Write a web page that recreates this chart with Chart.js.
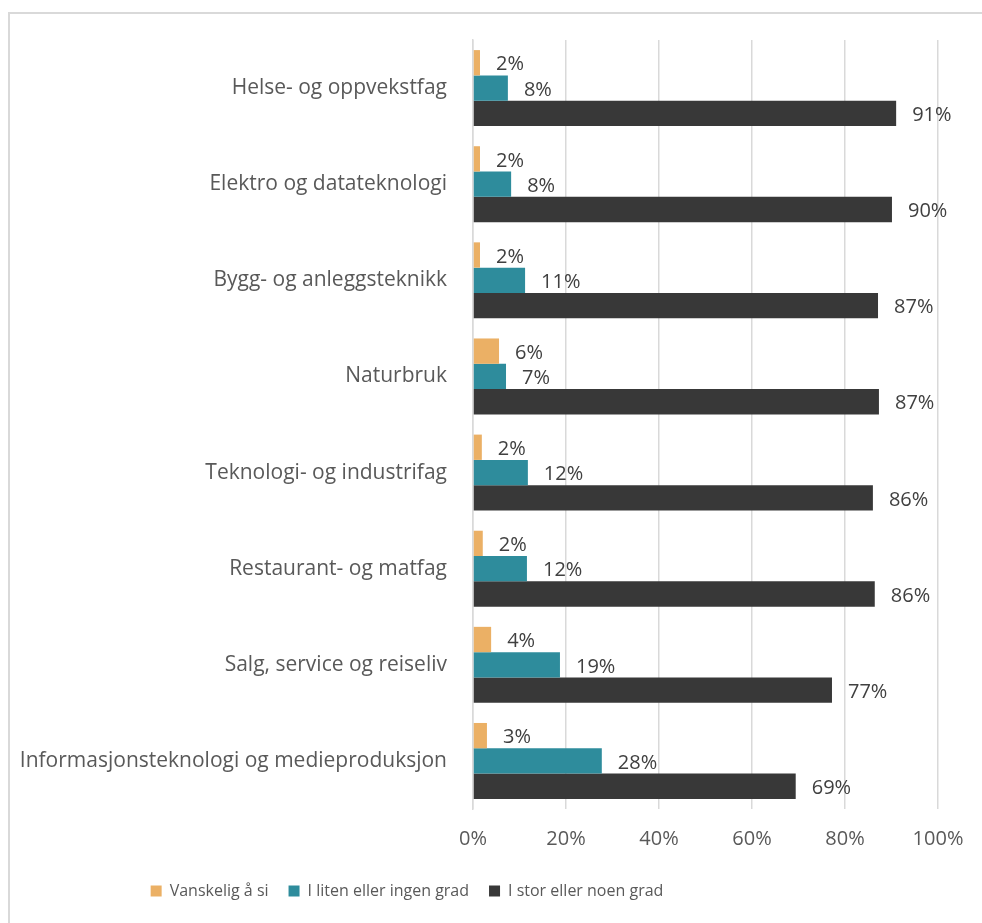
<!DOCTYPE html>
<html>
<head>
<meta charset="utf-8">
<script src="https://cdn.jsdelivr.net/npm/chart.js@4"></script>
<style>
  html, body { margin: 0; padding: 0; background: #fff; overflow: hidden; }
  #frame { position: absolute; left: 8px; top: 12px; width: 1000px; height: 1000px;
           border-left: 2px solid #d9d9d9; border-top: 2px solid #d9d9d9; }
  #wrap { position: absolute; left: 0; top: 0; width: 982px; height: 923px; }
</style>
</head>
<body>
<div id="frame"></div>
<div id="wrap"><canvas id="chart"></canvas></div>
<script>
// kategorier (fra topp til bunn)
const categories = [
    "Helse- og oppvekstfag",
    "Elektro og datateknologi",
    "Bygg- og anleggsteknikk",
    "Naturbruk",
    "Teknologi- og industrifag",
    "Restaurant- og matfag",
    "Salg, service og reiseliv",
    "Informasjonsteknologi og medieproduksjon"
];

const seriesNames = ["Vanskelig å si", "I liten eller ingen grad", "I stor eller noen grad"];

// verdier i prosent, lest av bildet
const vanskelig = [1.5, 1.5, 1.5, 5.6, 1.9, 2.1, 3.9, 3.0];
const litenGrad = [7.5, 8.2, 11.2, 7.1, 11.8, 11.6, 18.7, 27.7];
const storGrad  = [91.0, 90.1, 87.1, 87.3, 86.0, 86.4, 77.2, 69.4];

const xTicks = [0, 20, 40, 60, 80, 100];

const colors = ['#ebb065', '#2e8c9c', '#383838'];
const FONT = "'Open Sans', sans-serif";

// etiketter ved enden av hver stolpe
const barLabels = {
    id: 'barLabels',
    afterDatasetsDraw(chart) {
        const ctx = chart.ctx;
        ctx.save();
        ctx.font = '20px ' + FONT;
        ctx.fillStyle = '#404040';
        ctx.textAlign = 'left';
        ctx.textBaseline = 'middle';
        chart.data.datasets.forEach((ds, i) => {
            chart.getDatasetMeta(i).data.forEach((el, j) => {
                ctx.fillText(Math.round(ds.data[j]) + '%', el.x + 16, el.y + 2);
            });
        });
        ctx.restore();
    }
};

// flytt forklaringen litt til venstre, som i Excel-originalen
const legendShift = {
    id: 'legendShift',
    afterLayout(chart) {
        const lg = chart.legend;
        lg.left -= 62; lg.right -= 62;
        lg.top += 4; lg.bottom += 4;
    }
};

new Chart(document.getElementById('chart'), {
    type: 'bar',
    data: {
        labels: categories,
        datasets: [
            { label: seriesNames[0], data: vanskelig, backgroundColor: colors[0] },
            { label: seriesNames[1], data: litenGrad, backgroundColor: colors[1] },
            { label: seriesNames[2], data: storGrad, backgroundColor: colors[2] }
        ]
    },
    options: {
        indexAxis: 'y',
        responsive: true,
        maintainAspectRatio: false,
        animation: false,
        datasets: { bar: { barPercentage: 1, categoryPercentage: 0.79 } },
        layout: { padding: { top: 40, right: 44, bottom: 18, left: 0 } },
        scales: {
            x: {
                min: 0, max: 100,
                afterBuildTicks: axis => { axis.ticks = xTicks.map(v => ({ value: v })); },
                afterFit: axis => { axis.height = 50; },
                grid: { color: '#d9d9d9', lineWidth: 1.5, drawTicks: false },
                border: { display: false },
                ticks: { padding: 18, color: '#595959', font: { family: FONT, size: 20 },
                         callback: v => v + '%' }
            },
            y: {
                afterFit: axis => { axis.width = 473; },
                grid: { display: false },
                border: { color: '#d9d9d9', width: 1.5 },
                ticks: { padding: 18, color: '#595959', font: { family: FONT, size: 21 } }
            }
        },
        plugins: {
            legend: {
                position: 'bottom',
                labels: { boxWidth: 11, boxHeight: 11, padding: 20, color: '#595959',
                          font: { family: FONT, size: 16 } }
            },
            tooltip: { enabled: false }
        }
    },
    plugins: [barLabels, legendShift]
});
</script>
</body>
</html>
